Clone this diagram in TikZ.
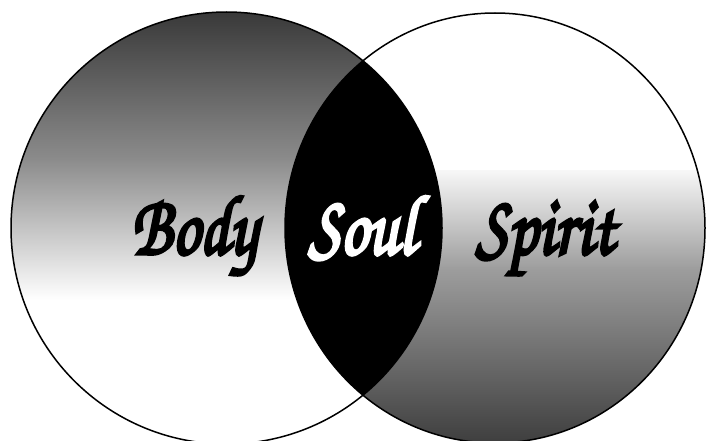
\documentclass[tikz,border=0pt]{standalone}
\usepackage{fontspec}
\usetikzlibrary{positioning}
\newfontfamily\brushfont[FakeBold=4]{TeX Gyre Chorus}
\definecolor{bodytop}{gray}{0.22}
\definecolor{bodymid}{gray}{0.55}
\definecolor{spiritlow}{gray}{0.24}
\definecolor{spiritmid}{gray}{0.62}
\tikzset{
  ring/.style = {draw=black, line width=1.5pt},
  word/.style = {font=\brushfont\fontsize{72}{80}\selectfont, inner sep=0pt,
                 anchor=base, xscale=0.95, yscale=1.18, transform shape},
}

\begin{document}
\begin{tikzpicture}[x=1pt,y=-1pt]
  \useasboundingbox (0,0) rectangle (706,441);
  \coordinate (bodyc) at (226.5,228);
  \coordinate (spiritc) at (495,228);
  % body: dark at the top, fading to white
  \begin{scope}
    \clip (bodyc) ellipse [x radius=215.5, y radius=216];
    \shade[top color=bodytop, bottom color=bodymid] (0,10) rectangle (706,161);
    \shade[top color=bodymid, bottom color=white] (0,160) rectangle (706,300);
  \end{scope}
  % spirit: white at the top, dark at the bottom
  \begin{scope}
    \clip (spiritc) ellipse [x radius=210, y radius=215];
    \shade[top color=gray!6, bottom color=spiritmid] (0,170) rectangle (706,268);
    \shade[top color=spiritmid, bottom color=spiritlow] (0,267) rectangle (706,445);
  \end{scope}
  % soul: the overlap
  \begin{scope}
    \clip (bodyc) ellipse [x radius=215.5, y radius=216];
    \fill[black] (spiritc) ellipse [x radius=210, y radius=215];
  \end{scope}
  \draw[ring] (bodyc) ellipse [x radius=215.5, y radius=216];
  \draw[ring] (spiritc) ellipse [x radius=210, y radius=215];

  \node[word] (body) at (194,254) {Body};
  \node[word, text=white] (soul) at (362,254) {Soul};
  \node[word] (spirit) at (545,254) {Spirit};
\end{tikzpicture}
\end{document}
